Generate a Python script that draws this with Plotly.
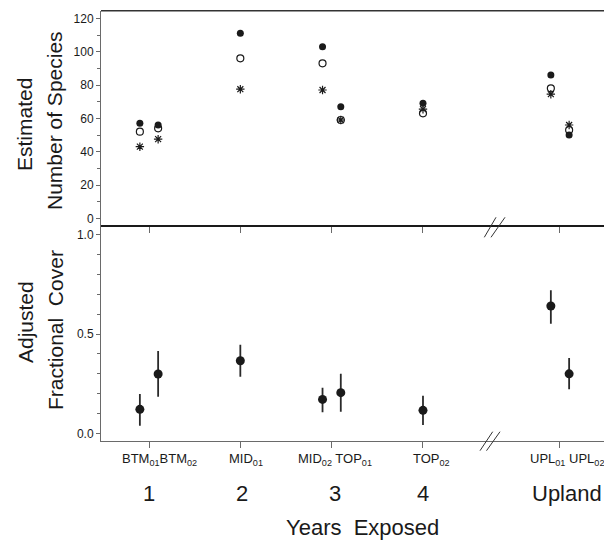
import plotly.graph_objects as go

# ---- data ----
categories = ["BTM01", "BTM02", "MID01", "MID02", "TOP01", "TOP02", "UPL01", "UPL02"]
years_exposed = [1, 1, 2, 3, 3, 4, 5.5, 5.5]          # 5.5 = "Upland" slot after the axis break
dodge = [-0.1, 0.1, 0.0, -0.1, 0.1, 0.0, -0.1, 0.1]

richness_solid = [57, 56, 111, 103, 67, 69, 86, 50]
richness_open = [52, 54, 96, 93, 59, 63, 78, 53]
richness_star = [43, 47.5, 77.5, 77, 59, 65.5, 74.5, 56]

cover = [0.121, 0.299, 0.366, 0.171, 0.205, 0.116, 0.642, 0.300]
cover_hi = [0.198, 0.415, 0.447, 0.230, 0.300, 0.190, 0.721, 0.380]
cover_lo = [0.038, 0.185, 0.285, 0.106, 0.109, 0.042, 0.553, 0.222]

year_ticks = [1, 2, 3, 4, 5.5]
year_labels = ["1", "2", "3", "4", "Upland"]
site_labels = ["BTM<sub>01</sub>BTM<sub>02</sub>", "MID<sub>01</sub>",
               "MID<sub>02</sub> TOP<sub>01</sub>", "TOP<sub>02</sub>",
               "UPL<sub>01</sub> UPL<sub>02</sub>"]

xs = [y + d for y, d in zip(years_exposed, dodge)]
err_plus = [h - c for h, c in zip(cover_hi, cover)]
err_minus = [c - l for c, l in zip(cover, cover_lo)]

OFF = 8  # page body margin
W, H = 612 - OFF, 541 - OFF
FONT = "Liberation Sans, Arial, Helvetica, sans-serif"
INK = "#1a1a1a"
AX = "#6a6a6a"

def py(p):  # reference pixel row -> paper y
    return 1 - (p - OFF) / H

def px(p):
    return (p - OFF) / W

fig = go.Figure()

# top panel
fig.add_trace(go.Scatter(x=xs, y=richness_open, mode="markers", xaxis="x2", yaxis="y2",
                         marker=dict(symbol="circle", size=7, color="white",
                                     line=dict(color=INK, width=1.2)), showlegend=False))
fig.add_trace(go.Scatter(x=xs, y=richness_star, mode="markers", xaxis="x2", yaxis="y2",
                         marker=dict(symbol="asterisk-open", size=7, color=INK,
                                     line=dict(color=INK, width=1.2)), showlegend=False))
fig.add_trace(go.Scatter(x=xs, y=richness_solid, mode="markers", xaxis="x2", yaxis="y2",
                         marker=dict(symbol="circle", size=7, color=INK,
                                     line=dict(width=0)), showlegend=False))

# bottom panel
fig.add_trace(go.Scatter(x=xs, y=cover, mode="markers", xaxis="x", yaxis="y",
                         marker=dict(symbol="circle", size=9, color=INK, line=dict(width=0)),
                         error_y=dict(type="data", symmetric=False, array=err_plus,
                                      arrayminus=err_minus, color="#2a2a2a",
                                      thickness=1.8, width=0),
                         showlegend=False))

xr = [1 - 48 / 91.33, 1 + (612 - 149) / 91.33]
top_lo, top_hi = 226, 10.7
bot_lo, bot_hi = 440.7, 226

fig.update_layout(
    width=W, height=H, margin=dict(l=0, r=0, t=0, b=0),
    paper_bgcolor="white", plot_bgcolor="white",
    font=dict(family=FONT, color=INK, size=12),
    xaxis=dict(domain=[px(101), 1], range=xr, anchor="y", tickvals=year_ticks,
               showticklabels=False, ticks="outside", ticklen=6, tickcolor=AX,
               showline=True, linecolor=AX, linewidth=1, showgrid=False, zeroline=False),
    yaxis=dict(domain=[py(bot_lo), py(bot_hi)], range=[-0.037, 1.045], anchor="x",
               tickvals=[0, 0.5, 1.0], ticktext=["0.0", "0.5", "1.0"],
               ticks="outside", ticklen=4, tickcolor=AX,
               minor=dict(tickvals=[0.1, 0.2, 0.3, 0.4, 0.6, 0.7, 0.8, 0.9],
                          ticks="outside", ticklen=3, tickcolor=AX),
               showline=True, linecolor=AX, linewidth=1, showgrid=False, zeroline=False,
               tickfont=dict(size=12)),
    xaxis2=dict(domain=[px(101), 1], range=xr, anchor="y2", tickvals=year_ticks,
                showticklabels=False, ticks="outside", ticklen=6, tickcolor=AX,
                showline=False, showgrid=False, zeroline=False),
    yaxis2=dict(domain=[py(top_lo), py(top_hi)], range=[-4.6, 124.6], anchor="x2",
                tickvals=[0, 20, 40, 60, 80, 100, 120],
                ticks="outside", ticklen=4, tickcolor=AX,
                minor=dict(tickvals=[10, 30, 50, 70, 90, 110],
                           ticks="outside", ticklen=3, tickcolor=AX),
                showline=True, linecolor=AX, linewidth=1, showgrid=False, zeroline=False,
                tickfont=dict(size=12)),
)

shapes = []
# top border and thick divider
shapes.append(dict(type="line", xref="paper", yref="paper", x0=px(101), x1=1,
                   y0=py(10.7), y1=py(10.7), line=dict(color="#333", width=1.5)))
shapes.append(dict(type="line", xref="paper", yref="paper", x0=px(101), x1=1,
                   y0=py(226), y1=py(226), line=dict(color=INK, width=2.2)))
# right border of lower panel
shapes.append(dict(type="line", xref="paper", yref="paper", x0=px(607), x1=px(607),
                   y0=py(227), y1=py(440.7), line=dict(color="#999", width=1)))
# axis-break marks (//)
for (x0, y0, x1, y1) in [(484.3, 237.3, 496, 217.3), (491, 237.3, 505, 217.3),
                         (480, 450.7, 492.7, 431.7), (486.5, 450.7, 500, 431.7)]:
    shapes.append(dict(type="line", xref="paper", yref="paper", x0=px(x0), x1=px(x1),
                       y0=py(y0), y1=py(y1), line=dict(color="#333", width=1)))
fig.update_layout(shapes=shapes)

ann = []
# axis titles
for txt, xp, yc in [("Estimated", 25, 125), ("Number of Species", 55, 121),
                    ("Adjusted", 25, 322), ("Fractional  Cover", 55, 330)]:
    ann.append(dict(text=txt, xref="paper", yref="paper", x=px(xp), y=py(yc),
                    textangle=-90, showarrow=False, xanchor="center", yanchor="middle",
                    font=dict(size=21, family=FONT, color=INK)))
# site labels
for txt, xc in zip(site_labels, [159, 246, 335, 431, 567]):
    ann.append(dict(text=txt, xref="paper", yref="paper", x=px(xc), y=py(459),
                    showarrow=False, xanchor="center", yanchor="middle",
                    font=dict(size=13, family=FONT, color=INK)))
# year labels
for txt, xc in zip(year_labels, [149, 241.5, 335, 422.5, 567]):
    ann.append(dict(text=txt, xref="paper", yref="paper", x=px(xc), y=py(493),
                    showarrow=False, xanchor="center", yanchor="middle",
                    font=dict(size=22, family=FONT, color=INK)))
ann.append(dict(text="Years  Exposed", xref="paper", yref="paper", x=px(362), y=py(527),
                showarrow=False, xanchor="center", yanchor="middle",
                font=dict(size=22, family=FONT, color=INK)))
fig.update_layout(annotations=ann)

fig.write_html("out.html")
